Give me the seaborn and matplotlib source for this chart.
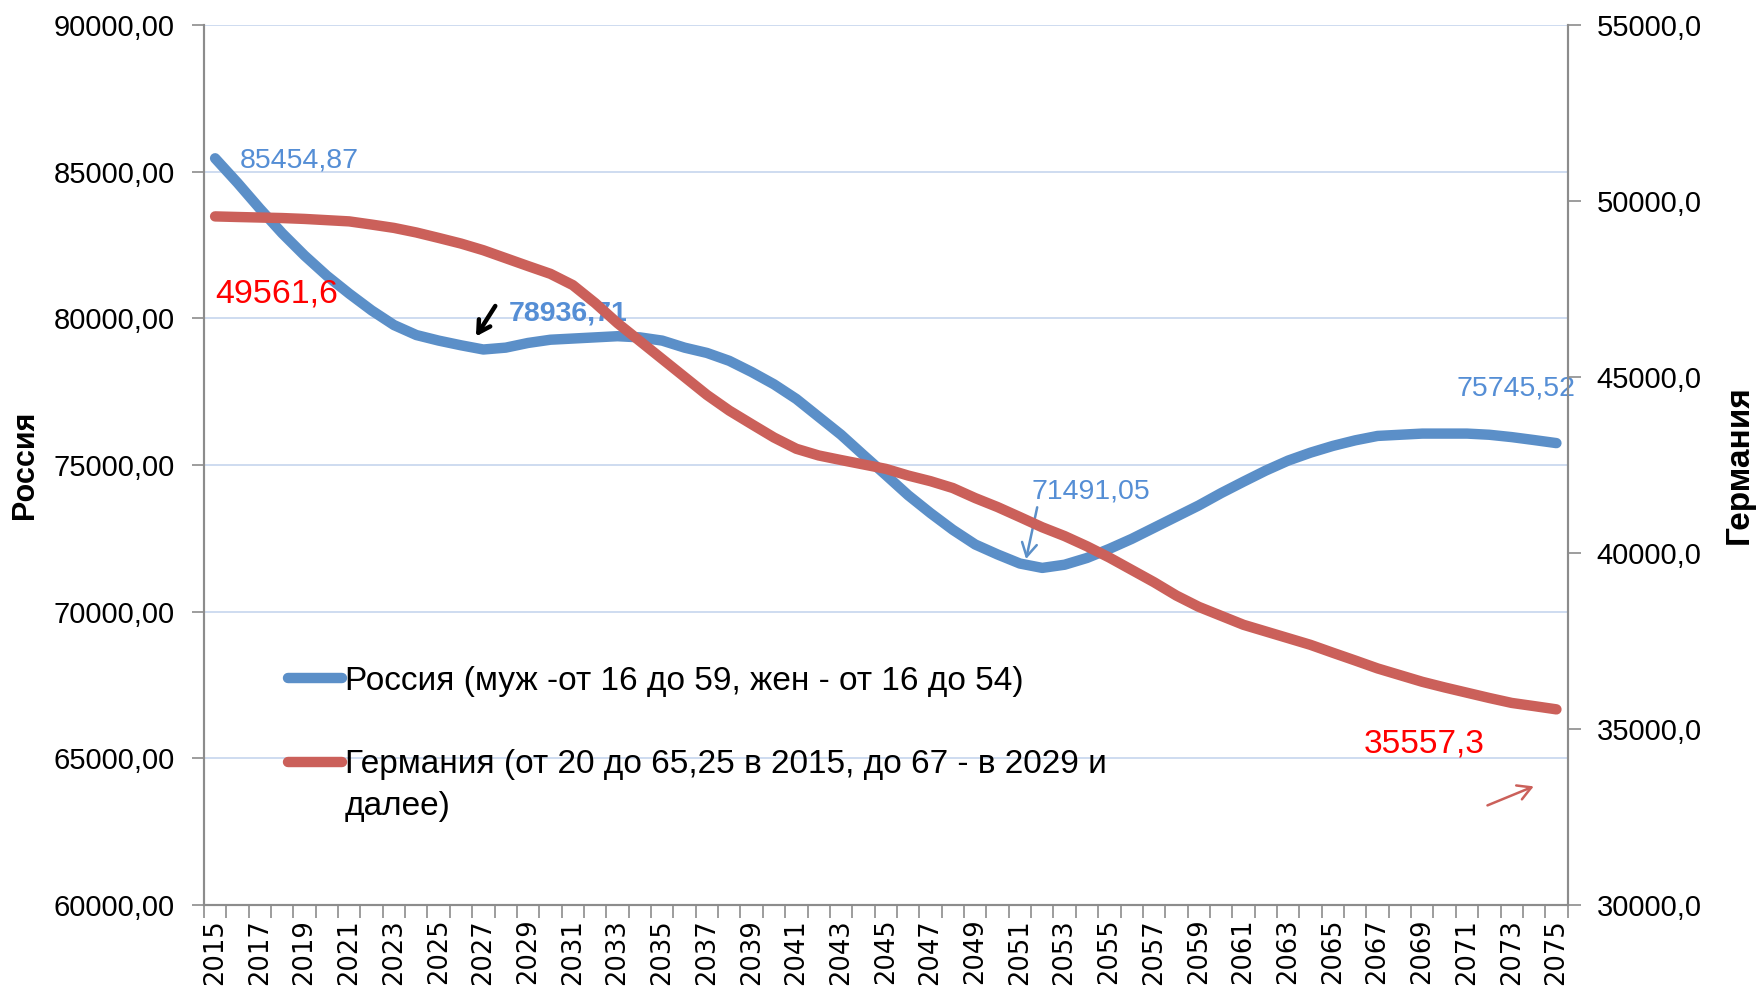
import matplotlib
matplotlib.use('Agg')
import matplotlib.pyplot as plt
import matplotlib.ticker as mticker
import pandas as pd
import seaborn as sns

years = list(range(2015, 2076))
russia = [85454.87, 84620, 83740, 82900, 82140, 81450, 80840, 80270, 79770, 79430,
          79240, 79080, 78936.71, 79000, 79160, 79270, 79310, 79350, 79390, 79350,
          79240, 79000, 78820, 78550, 78170, 77750, 77250, 76640, 76030, 75340,
          74660, 73970, 73360, 72790, 72290, 71950, 71640, 71491.05, 71600, 71830,
          72140, 72480, 72860, 73240, 73620, 74040, 74430, 74810, 75150, 75420,
          75650, 75840, 75990, 76030, 76070, 76070, 76070, 76030, 75950, 75850,
          75745.52]
germany = [49561.6, 49545, 49530, 49515, 49490, 49455, 49420, 49330, 49235, 49105,
           48950, 48790, 48600, 48375, 48150, 47930, 47610, 47100, 46530, 46020,
           45510, 45000, 44490, 44045, 43660, 43280, 42960, 42770, 42640, 42515,
           42390, 42200, 42040, 41845, 41560, 41305, 41020, 40730, 40480, 40190,
           39870, 39520, 39170, 38790, 38470, 38215, 37960, 37770, 37580, 37390,
           37165, 36945, 36720, 36530, 36340, 36180, 36030, 35880, 35740, 35650,
           35557.3]
russia_label = 'Россия (муж -от 16 до 59, жен - от 16 до 54)'
germany_label = 'Германия (от 20 до 65,25 в 2015, до 67 - в 2029 и'
germany_label_2 = 'далее)'

blue = '#5B8FC8'
red = '#CB605A'
text_blue = '#558ED5'
grey = '#8C8C8C'

sns.set_theme(style='white')
plt.rcParams['font.family'] = ['Liberation Sans', 'DejaVu Sans']
plt.rcParams['text.color'] = 'black'
plt.rcParams['axes.labelcolor'] = 'black'
plt.rcParams['xtick.color'] = 'black'
plt.rcParams['ytick.color'] = 'black'

df = pd.DataFrame({'year': years, 'russia': russia, 'germany': germany})

fig = plt.figure(figsize=(17.58, 9.91), dpi=100)
ax = fig.add_axes([0.116, 0.0868, 0.7757, 0.888])
ax2 = ax.twinx()

sns.lineplot(data=df, x='year', y='russia', ax=ax, color=blue, lw=7.5,
             solid_capstyle='round', solid_joinstyle='round', legend=False)
sns.lineplot(data=df, x='year', y='germany', ax=ax2, color=red, lw=7.5,
             solid_capstyle='round', solid_joinstyle='round', legend=False)

# axes ranges / ticks
ax.set_xlim(2014.5, 2075.5)
ax.set_ylim(60000, 90000)
ax2.set_ylim(30000, 55000)
ax.yaxis.set_major_locator(mticker.MultipleLocator(5000))
ax2.yaxis.set_major_locator(mticker.MultipleLocator(5000))
ax.yaxis.set_major_formatter(mticker.FuncFormatter(lambda v, p: f'{v:.2f}'.replace('.', ',')))
ax2.yaxis.set_major_formatter(mticker.FuncFormatter(lambda v, p: f'{v:.1f}'.replace('.', ',')))

ax.set_xticks(years[::2])
ax.set_xticklabels([str(y) for y in years[::2]], rotation=90, fontsize=18.5,
                   family='DejaVu Sans')
ax.set_xticks([y - 0.5 for y in years] + [2075.5], minor=True)
ax.tick_params(axis='x', which='major', length=0, pad=10)
ax.tick_params(axis='x', which='minor', length=9, width=1.2, color=grey, bottom=True)
ax.tick_params(axis='y', which='major', length=9, width=1.2, color=grey, labelsize=21,
               pad=12, left=True)
ax2.tick_params(axis='y', which='major', length=9, width=1.2, color=grey, labelsize=21,
                pad=12, right=True)

ax.grid(axis='y', color='#C6D6EE', lw=1.2)
ax.grid(axis='x', visible=False)
ax2.grid(False)

for a in (ax, ax2):
    a.spines['top'].set_visible(False)
    for s in ('left', 'right', 'bottom'):
        a.spines[s].set_color(grey)
        a.spines[s].set_linewidth(1.5)

ax.set_xlabel('')
ax.set_ylabel('Россия', fontsize=22, fontweight='bold', labelpad=10)
ax2.set_ylabel('Германия', fontsize=24, fontweight='bold', labelpad=16)

# data labels
ax.text(2016.1, 85382, '85454,87', color=text_blue, fontsize=20.5, va='center')
ax.text(2015.0, 80840, '49561,6', color='red', fontsize=24.5, va='center')
ax.text(2028.15, 80153, '78936,71', color=text_blue, fontsize=20.5, va='center',
        fontweight='bold')
ax.text(2051.5, 74084, '71491,05', color=text_blue, fontsize=20.5, va='center')
ax.text(2070.55, 77595, '75745,52', color=text_blue, fontsize=20.5, va='center')
ax.text(2066.4, 65496, '35557,3', color='red', fontsize=24, va='center')

# arrows
ax.annotate('', xy=(2026.6, 79300), xytext=(2027.6, 80500),
            arrowprops=dict(arrowstyle='->,head_length=0.7,head_width=0.4',
                            color='black', lw=3.2))
ax.annotate('', xy=(2051.25, 71700), xytext=(2051.8, 73650),
            arrowprops=dict(arrowstyle='->,head_length=0.8,head_width=0.45',
                            color=blue, lw=1.8))
ax.annotate('', xy=(2074.1, 64080), xytext=(2071.8, 63359),
            arrowprops=dict(arrowstyle='->,head_length=0.8,head_width=0.45',
                            color=red, lw=1.8))

# legend
handles = [ax.get_lines()[0], ax2.get_lines()[0]]
leg = ax2.legend(handles, [russia_label, germany_label], loc='upper left',
                 bbox_to_anchor=(0.052, 0.287), frameon=False, fontsize=24,
                 handlelength=1.6, handletextpad=0.1, labelspacing=1.58,
                 borderaxespad=0)

# second line of the Germany entry, placed under the legend text
fig.canvas.draw()
bb = leg.get_texts()[1].get_window_extent().transformed(fig.transFigure.inverted())
fig.text(bb.x0, bb.y0 - 0.011, germany_label_2, fontsize=24, ha='left', va='top')

fig.savefig('out.png', dpi=100)
